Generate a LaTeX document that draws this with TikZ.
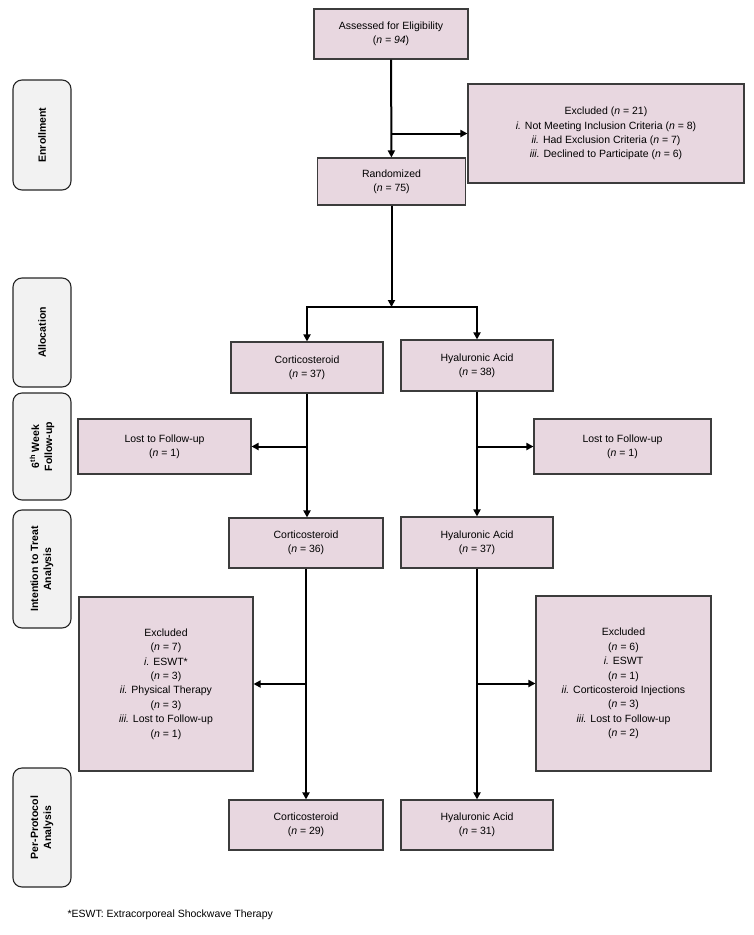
\documentclass[tikz,border=0pt]{standalone}
\usepackage{fontspec}
\setmainfont{Liberation Sans}
\usetikzlibrary{arrows.meta,positioning}

\definecolor{boxpink}{RGB}{232,215,224}
\definecolor{stagegrey}{RGB}{242,242,242}
\definecolor{boxline}{RGB}{60,60,60}

\tikzset{
	flowbox/.style={draw=boxline, line width=1.1pt, fill=boxpink, align=center,
		inner sep=2pt, font=\fontsize{10.5}{14.4}\selectfont},
	stagebox/.style={draw=black!85, line width=1.1pt, fill=stagegrey, rounded corners=9pt,
		rotate=90, align=center, inner sep=2pt, minimum height=58pt,
		font=\bfseries\fontsize{10.5}{13}\selectfont},
	flowline/.style={line width=2pt},
	flowarrow/.style={line width=2pt, -{Triangle[length=7pt,width=7pt]}},
}

\begin{document}
\begin{tikzpicture}[x=1pt,y=-1pt]

	\useasboundingbox (0,0) rectangle (753,935);

	% stages
	\node[stagebox, minimum width=110pt] (enrol) at (42,135) {Enrollment};
	\node[stagebox, minimum width=109pt] (alloc) at (42,332.5) {Allocation};
	\node[stagebox, minimum width=107pt] (follow) at (42,446.5) {6\textsuperscript{th} Week\\Follow-up};
	\node[stagebox, minimum width=118pt] (itt) at (42,569) {Intention to Treat\\Analysis};
	\node[stagebox, minimum width=119pt] (pp) at (42,827.5) {Per-Protocol\\Analysis};

	% enrollment
	\node[flowbox, minimum width=154pt, minimum height=50pt] (assess) at (391,34)
		{Assessed for Eligibility\\(\textit{n = 94})};
	\node[flowbox, minimum width=276pt, minimum height=99pt] (excl) at (606,133.5)
		{Excluded (\textit{n} = 21)\\
		\textit{i.} Not Meeting Inclusion Criteria (\textit{n} = 8)\\
		\textit{ii.} Had Exclusion Criteria (\textit{n} = 7)\\
		\textit{iii.} Declined to Participate (\textit{n} = 6)};
	\node[flowbox, minimum width=148pt, minimum height=47pt] (rand) at (391.5,181.5)
		{Randomized\\(\textit{n} = 75)};

	% allocation
	\node[flowbox, minimum width=152pt, minimum height=51pt] (cortA) at (307,367.5)
		{Corticosteroid\\(\textit{n = }37)};
	\node[flowbox, minimum width=152pt, minimum height=51pt] (hyalA) at (477,365.5)
		{Hyaluronic Acid\\(\textit{n = }38)};

	% follow-up
	\node[flowbox, minimum width=173pt, minimum height=55pt] (lostL) at (164.5,446.5)
		{Lost to Follow-up\\(\textit{n} = 1)};
	\node[flowbox, minimum width=177pt, minimum height=55pt] (lostR) at (622.5,446.5)
		{Lost to Follow-up\\(\textit{n} = 1)};

	% intention to treat
	\node[flowbox, minimum width=154pt, minimum height=50pt] (cortB) at (306,543)
		{Corticosteroid\\(\textit{n} = 36)};
	\node[flowbox, minimum width=152pt, minimum height=51pt] (hyalB) at (477,542.5)
		{Hyaluronic Acid\\(\textit{n} = 37)};

	\node[flowbox, minimum width=174pt, minimum height=174pt] (exclL) at (166,684)
		{Excluded\\(\textit{n =} 7)\\\textit{i.} ESWT*\\(\textit{n} = 3)\\
		\textit{ii.} Physical Therapy\\(\textit{n} = 3)\\
		\textit{iii.} Lost to Follow-up\\(\textit{n} = 1)};
	\node[flowbox, minimum width=175pt, minimum height=175pt] (exclR) at (623.5,683.5)
		{Excluded\\(\textit{n =} 6)\\\textit{i.} ESWT\\(\textit{n} = 1)\\
		\textit{ii.} Corticosteroid Injections\\(\textit{n} = 3)\\
		\textit{iii.} Lost to Follow-up\\(\textit{n} = 2)};

	% per-protocol
	\node[flowbox, minimum width=154pt, minimum height=50pt] (cortC) at (306,825)
		{Corticosteroid\\(\textit{n} = 29)};
	\node[flowbox, minimum width=152pt, minimum height=50pt] (hyalC) at (477,825)
		{Hyaluronic Acid\\(\textit{n} = 31)};

	\node[anchor=west, font=\fontsize{10.5}{13}\selectfont] (note) at (64,915)
		{*ESWT: Extracorporeal Shockwave Therapy};

	% connectors
	\draw[flowarrow] (assess) -- (rand);
	\draw[flowarrow] (assess.south |- excl.west) -- (excl.west);

	\coordinate (split) at (391.5,307);
	\draw[flowarrow] (rand) -- (split);
	\draw[flowarrow] (split) -| (cortA.north);
	\draw[flowarrow] (split) -| (hyalA.north);

	\draw[flowarrow] (cortA) -- (cortA.south |- cortB.north);
	\draw[flowarrow] (cortA.south |- lostL.east) -- (lostL.east);
	\draw[flowarrow] (hyalA) -- (hyalA.south |- hyalB.north);
	\draw[flowarrow] (hyalA.south |- lostR.west) -- (lostR.west);

	\draw[flowarrow] (cortB) -- (cortB.south |- cortC.north);
	\draw[flowarrow] (cortB.south |- exclL.east) -- (exclL.east);
	\draw[flowarrow] (hyalB) -- (hyalB.south |- hyalC.north);
	\draw[flowarrow] (hyalB.south |- exclR.west) -- (exclR.west);

\end{tikzpicture}
\end{document}
